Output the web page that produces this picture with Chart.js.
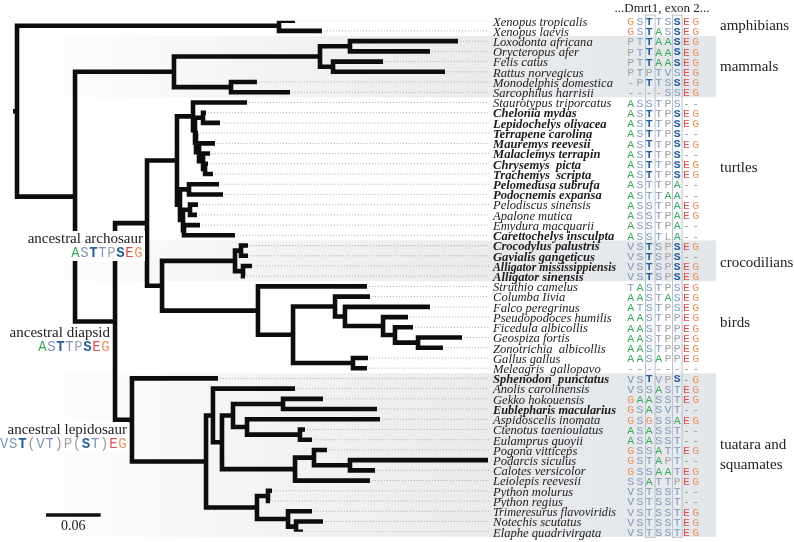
<!DOCTYPE html>
<html>
<head>
<meta charset="utf-8">
<script src="https://cdn.jsdelivr.net/npm/chart.js@4.4.1/dist/chart.umd.min.js"></script>
<style>
  html, body { margin: 0; padding: 0; background: #fff; }
  #wrap { width: 794px; height: 542px; }
</style>
</head>
<body>
<div id="wrap"><canvas id="tree" width="794" height="542"></canvas></div>
<script>
"use strict";

// leaves, top to bottom
const taxa = [
  "Xenopus tropicalis", "Xenopus laevis", "Loxodonta africana", "Orycteropus afer",
  "Felis catus", "Rattus norvegicus", "Monodelphis domestica", "Sarcophilus harrisii",
  "Staurotypus triporcatus", "Chelonia mydas", "Lepidochelys olivacea", "Terrapene carolina",
  "Mauremys reevesii", "Malaclemys terrapin", "Chrysemys  picta", "Trachemys  scripta",
  "Pelomedusa subrufa", "Podocnemis expansa", "Pelodiscus sinensis", "Apalone mutica",
  "Emydura macquarii", "Carettochelys insculpta", "Crocodylus palustris", "Gavialis gangeticus",
  "Alligator mississippiensis", "Alligator sinensis", "Struthio camelus", "Columba Iivia",
  "Falco peregrinus", "Pseudopodoces humilis", "Ficedula albicollis", "Geospiza fortis",
  "Zonotrichia  albicollis", "Gallus gallus", "Meleagris  gallopavo", "Sphenodon  punctatus",
  "Anolis carolinensis", "Gekko hokouensis", "Eublepharis macularius", "Aspidoscelis inomata",
  "Ctenotus taenioulatus", "Eulamprus quoyii", "Pogona vitticeps", "Podarcis siculus",
  "Calotes versicolor", "Leiolepis reevesii", "Python molurus", "Python regius",
  "Trimeresurus flavoviridis", "Notechis scutatus", "Elaphe quadrivirgata"
];

// distance of each tip from the root (substitutions/site)
const tipDepth = [
  0.3052, 0.3348, 0.4841, 0.4533, 0.4018, 0.4698, 0.2634, 0.2997,
  0.2525, 0.2075, 0.2228, 0.1987, 0.2173, 0.2119, 0.2097, 0.2151,
  0.2217, 0.2261, 0.1987, 0.1976, 0.2009, 0.2393,
  0.2536, 0.2536, 0.2580, 0.2503,
  0.3842, 0.3875, 0.4533, 0.4292, 0.4347, 0.4885, 0.4676, 0.3853, 0.3842,
  0.2206, 0.3052, 0.3359, 0.3952, 0.3985, 0.3161, 0.3238, 0.3403, 0.5170, 0.3930, 0.3875,
  0.2799, 0.2777, 0.3238, 0.3359, 0.3139
];

// ...Dmrt1, exon 2... alignment
const sequences = [
  "GSTTSSEG", "GSTASSEG", "PTTAASEG", "PTTAASEG", "PTTAASEG", "PTPTVSEG", "-PTTSSEG", "----SSEG",
  "ASSTPS--", "ASTTPSEG", "ASTTPSEG", "ASTTPS--", "ASTTPSEG", "ASTTPS--", "ASTTPSEG", "ASTTPSEG",
  "ASTTPA--", "ASTTAA--", "ASSTPAEG", "ASSTPAEG", "ASSTPA--", "ASSTLA--",
  "VSTSPSEG", "VSTSPS--", "VSTSPSEG", "VSTSPSEG",
  "TASTPSEG", "AASTASEG", "ATSTPSEG", "AASTPPEG", "AASTPPEG", "AASTPPEG", "AASTPPEG", "AASAPPEG", "--------",
  "VSTVPS-G", "VSSASTEG", "GAASSTEG", "GSASVT--", "GSGSSAEG", "ASASST--", "ASASST--",
  "GSSATTEG", "GSTAPT--", "GSSAATEG", "SSATTPEG",
  "VSTSST--", "VSTSST--", "VSTSSTEG", "VSTSSTEG", "VSTSSTEG"
];

const boldTaxa = [9, 10, 11, 12, 13, 14, 15, 16, 17, 21, 22, 23, 24, 25, 35, 38];

// internal node = [depth, child, child]; a number is a leaf index
const tree = [0,
  [0.2876, 0, 1],
  [0.0637,
    [0.1723,
      [0.3326, [0.3655, 2, 3], [0.3469, 4, 5]],
      [0.2349, 6, 7]],
    [0.1076,
      [0.1427,
        [0.1756,
          [0.1932, 8, [0.1954, [0.2042, 9, 10], [0.1965, 11, [0.1998, 12, [0.2042, 13, [0.2064, 14, 15]]]]]],
          [0.1789, [0.1888, 16, 17], [0.1822, [0.1899, 18, 19], [0.1833, 20, 21]]]],
        [0.1592,
          [0.2393, [0.2459, 22, 23], [0.2481, 24, 25]],
          [0.2645, 26, [0.3030, [0.3491, 27, [0.3600, 28, [0.4018, 29, [0.4149, 30, [0.4402, 31, 32]]]]], [0.3688, 33, 34]]]]],
      [0.1262, 35,
        [0.2075,
          [0.2151, 36, [0.2250, [0.2371, [0.2920, 37, 38], [0.2525, 39, [0.3106, 40, 41]]], [0.3052, [0.3260, 42, [0.3655, 43, 44]], 45]]],
          [0.2634, [0.2755, 46, 47], [0.2975, 48, [0.3063, 49, 50]]]]]]]];

const groupNames = ["amphibians", "mammals", "turtles", "crocodilians", "birds", "tuatara and", "squamates"];
const groupRows = [0.5, 4.5, 14.4, 23.7, 29.6, 41.5, 43.5];
const shadedRows = [[2, 7], [22, 25], [35, 50]];

const ancestorNames = ["ancestral archosaur", "ancestral diapsid", "ancestral lepidosaur"];
const ancestorSeqs = ["ASTTPSEG", "ASTTPSEG", "VST(VT)P(ST)EG"];
const ancestorBold = [[2, 5], [2, 5], [2, 9]];

const scaleBarLength = 0.06;

const xMin = -0.0044, xMax = 0.5181;

// branches as elbow paths, null breaks the line
var branchPts = [];
function place(node) {
  if (typeof node === "number") return { y: node, d: tipDepth[node] };
  var kids = node.slice(1).map(place);
  var y = (kids[0].y + kids[kids.length - 1].y) / 2;
  kids.forEach(function (k) {
    branchPts.push({ x: node[0], y: y }, { x: node[0], y: k.y }, { x: k.d, y: k.y }, { x: k.d, y: null });
  });
  return { y: y, d: node[0] };
}
var root = place(tree);
branchPts.push({ x: xMin, y: root.y }, { x: 0, y: root.y });

var leaderPts = [];
tipDepth.forEach(function (d, i) {
  leaderPts.push({ x: d + 0.002, y: i }, { x: xMax, y: i }, { x: xMax, y: null });
});

var scaleRow = 48.37;
var scalePts = [{ x: 0.0318, y: scaleRow }, { x: 0.0318 + scaleBarLength, y: scaleRow }];

function resColor(ch, bold) {
  if (bold) return "#2a5d9a";
  if (ch === "A") return "#3aa85a";
  if (ch === "G") return "#ea9260";
  if (ch === "E") return "#de5050";
  if (ch === "P" || ch === "L") return "#a4a4a4";
  if (ch === "-" || ch === "(" || ch === ")") return "#9c9c9c";
  return "#7f97b8"; // S T V
}

var seqX0 = 630.7, seqStep = 9.3;

const treeDecor = {
  id: "treeDecor",
  beforeDatasetsDraw: function (chart) {
    var ctx = chart.ctx, ys = chart.scales.y;
    ctx.save();
    shadedRows.forEach(function (r) {
      var top = ys.getPixelForValue(r[0] - 0.5), bot = ys.getPixelForValue(r[1] + 0.5);
      var g = ctx.createLinearGradient(20, 0, 716, 0);
      g.addColorStop(0, "rgba(240,241,243,0)");
      g.addColorStop(0.4, "#f1f2f3");
      g.addColorStop(0.7, "#e8eaec");
      g.addColorStop(1, "#e4e7ea");
      ctx.fillStyle = g;
      ctx.fillRect(20, top, 696, bot - top);
    });
    // highlighted alignment columns
    var top = ys.getPixelForValue(-0.55), bot = ys.getPixelForValue(50.55);
    [2, 5].forEach(function (c) {
      var cx = seqX0 + c * seqStep;
      ctx.fillStyle = "rgba(235,242,250,0.35)";
      ctx.fillRect(cx - 4.8, top, 9.6, bot - top);
      ctx.strokeStyle = "#b7c2cc";
      ctx.lineWidth = 1;
      ctx.strokeRect(Math.round(cx - 4.8) + 0.5, top, 9.6, bot - top);
    });
    ctx.restore();
  },
  afterDatasetsDraw: function (chart) {
    var ctx = chart.ctx, xs = chart.scales.x, ys = chart.scales.y;
    ctx.save();
    ctx.textBaseline = "middle";

    // taxon names
    taxa.forEach(function (name, i) {
      var b = boldTaxa.indexOf(i) >= 0;
      ctx.font = "italic " + (b ? "bold " : "") + "12.6px 'Liberation Serif'";
      ctx.fillStyle = "#1c1c1c";
      ctx.textAlign = "left";
      ctx.fillText(name, xs.right + 4, ys.getPixelForValue(i) + 1.5, 123);
    });

    // alignment
    ctx.textAlign = "center";
    sequences.forEach(function (s, i) {
      var motif = s[2] === "T" && s[5] === "S";
      for (var j = 0; j < s.length; j++) {
        var b = motif && (j === 2 || j === 5);
        ctx.font = (b ? "bold " : "") + "11.5px 'Liberation Mono'";
        ctx.fillStyle = resColor(s[j], b);
        ctx.fillText(s[j], seqX0 + j * seqStep, ys.getPixelForValue(i) + 1.2);
      }
    });

    ctx.font = "13px 'Liberation Serif'";
    ctx.fillStyle = "#222";
    ctx.fillText("...Dmrt1, exon 2...", 662, 9);

    // clade labels
    ctx.textAlign = "left";
    ctx.font = "15px 'Liberation Serif'";
    groupNames.forEach(function (g, i) {
      ctx.fillText(g, 720, ys.getPixelForValue(groupRows[i]));
    });

    // ancestral states
    var anc = [{ right: 143, y: 239 }, { right: 110, y: 333 }, { right: 127, y: 430 }];
    anc.forEach(function (a, i) {
      var seq = ancestorSeqs[i];
      var step = seq.length > 8 ? 9.1 : 9;
      ctx.font = "15px 'Liberation Serif'";
      var w = Math.max(ctx.measureText(ancestorNames[i]).width, seq.length * step);
      ctx.fillStyle = "#fff";
      ctx.fillRect(a.right - w - 2, a.y - 8, w + 4, 30);
      ctx.fillStyle = "#222";
      ctx.textAlign = "right";
      ctx.fillText(ancestorNames[i], a.right, a.y);
      ctx.textAlign = "center";
      for (var j = 0; j < seq.length; j++) {
        var b = ancestorBold[i].indexOf(j) >= 0;
        ctx.font = (b ? "bold " : "") + "14px 'Liberation Mono'";
        ctx.fillStyle = resColor(seq[j], b);
        ctx.fillText(seq[j], a.right - (seq.length - j) * step + step / 2, a.y + 14);
      }
    });

    // scale bar label
    ctx.textAlign = "center";
    ctx.font = "14px 'Liberation Serif'";
    ctx.fillStyle = "#222";
    ctx.fillText(String(scaleBarLength), xs.getPixelForValue(0.0318 + scaleBarLength / 2), ys.getPixelForValue(scaleRow) + 11);
    ctx.restore();
  }
};

new Chart(document.getElementById("tree"), {
  type: "scatter",
  data: {
    datasets: [
      {
        data: branchPts, showLine: true, borderColor: "#0d0d0d", borderWidth: 4.6,
        borderCapStyle: "butt", borderJoinStyle: "miter", pointRadius: 0, spanGaps: false
      },
      {
        data: scalePts, showLine: true, borderColor: "#111", borderWidth: 3.5, pointRadius: 0
      },
      {
        data: leaderPts, showLine: true, borderColor: "#a0a0a0", borderWidth: 0.9,
        borderDash: [1, 2], pointRadius: 0, spanGaps: false
      }
    ]
  },
  options: {
    responsive: false,
    animation: false,
    layout: { padding: { left: 13, right: 305, top: 20.7, bottom: 10.3 } },
    scales: {
      x: { type: "linear", min: xMin, max: xMax, display: false },
      y: { type: "linear", min: 0, max: 50, reverse: true, display: false }
    },
    plugins: { legend: { display: false }, tooltip: { enabled: false } }
  },
  plugins: [treeDecor]
});
</script>
</body>
</html>
